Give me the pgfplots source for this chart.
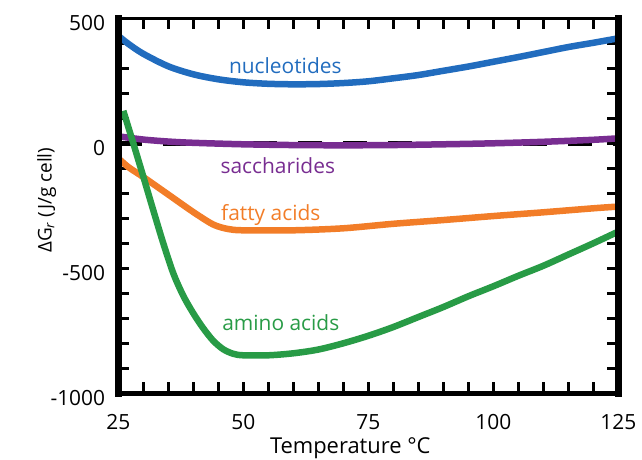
\documentclass[border=0pt]{standalone}
\usepackage{fontspec}
\setmainfont{Open Sans}
\usepackage{pgfplots}
\pgfplotsset{compat=1.18}
\definecolor{cblue}{RGB}{33,108,190}
\definecolor{cpurple}{RGB}{120,45,145}
\definecolor{corange}{RGB}{242,125,40}
\definecolor{cgreen}{RGB}{40,155,70}
\begin{document}
\fontsize{21}{25}\selectfont
\begin{tikzpicture}
\begin{axis}[
  width=500bp, height=375bp, scale only axis,
  xmin=25, xmax=125, ymin=-1000, ymax=500,
  axis line style={draw=none},
  xtick={25,50,75,100,125}, minor xtick={30,35,...,120},
  ytick={-1000,-500,0,500}, minor ytick={-900,-800,...,400},
  tick align=inside,
  major tick length=11bp, minor tick length=11bp,
  tick style={black, line width=2.5bp},
  tick label style={font=\fontsize{21}{25}\selectfont},
  scaled ticks=false,
  /pgf/number format/assume math mode=true,
  /pgf/number format/1000 sep={},
  xticklabel style={inner sep=0pt, yshift=-21bp},
  yticklabel style={inner sep=0pt, xshift=-13bp, yshift=-5bp},
  xlabel={\fontsize{22}{26}\selectfont Temperature °C},
  ylabel={\fontsize{19}{23}\selectfont ΔG\textsubscript{\textit{r}} (J/g cell)},
  xlabel style={at={(axis description cs:0.464,0)}, anchor=base, inner sep=0pt, yshift=-60.5bp},
  ylabel style={at={(axis description cs:-0.143,0.515)}, anchor=center, inner sep=0pt},
  clip=false,
]
% zero reference line
\addplot[black, line width=4.5bp, dash pattern=on 24bp off 21bp] coordinates {(25,0) (125,0)};
% nucleotides
\addplot[cblue, line width=6.5bp, smooth] coordinates {
(25,430)(27,398)(30,358)(35,308)(40,276)(45,256)(50,244)(55,238)(60,236)(65,237)(70,241)(75,248)
(80,260)(85,273)(90,290)(95,307)(100,326)(105,345)(110,365)(115,385)(120,402)(125,420)};
% saccharides
\addplot[cpurple, line width=6.5bp, smooth] coordinates {
(25,28)(30,15)(35,7)(40,2)(50,-4)(60,-7)(70,-8)(80,-7)(90,-4)(100,0)(110,6)(120,14)(125,20)};
% fatty acids
\addplot[corange, line width=6.5bp, smooth] coordinates {
(25,-60)(27,-95)(30,-135)(35,-205)(40,-275)(44,-325)(47,-343)(50,-348)(60,-348)(70,-340)
(80,-322)(90,-307)(100,-291)(110,-276)(120,-260)(125,-253)};
% amino acids
\addplot[cgreen, line width=6.5bp, smooth] coordinates {
(26,130)(28,0)(30,-133)(32,-268)(34,-400)(36,-520)(38,-610)(40,-680)(42,-740)
(44,-790)(46,-824)(48,-842)(50,-848)(55,-848)(60,-840)(65,-825)(70,-800)(75,-770)(80,-735)
(85,-695)(90,-655)(95,-612)(100,-572)(105,-530)(110,-490)(115,-445)(120,-400)(125,-353)};
\node[cblue, anchor=base] at (axis cs:58.4,280) {nucleotides};
\node[cpurple, anchor=base] at (axis cs:56.9,-120) {saccharides};
\node[corange, anchor=base] at (axis cs:55.5,-307) {fatty acids};
\node[cgreen, anchor=base] at (axis cs:57.5,-747) {amino acids};
\coordinate (ll) at (rel axis cs:0,0);
\coordinate (ur) at (rel axis cs:1,1);
\end{axis}
\draw[line width=2.5bp, line cap=rect] (ll|-ur) -- (ur);
\draw[line width=5bp, line cap=rect] (ll) -- (ur|-ll);
\draw[line width=7bp, line cap=rect] (ll) -- (ll|-ur);
\draw[line width=7bp, line cap=rect] (ur|-ll) -- (ur);
\pgfresetboundingbox
\path[use as bounding box] ([shift={(-118.3bp,-66.7bp)}]ll) rectangle ([shift={(23.7bp,18.3bp)}]ur);
\end{tikzpicture}
\end{document}
